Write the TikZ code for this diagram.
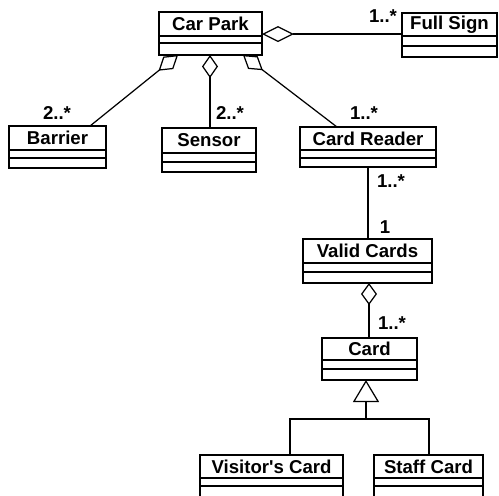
\documentclass[tikz,border=0pt]{standalone}
\usepackage{fontspec}
\setmainfont{Liberation Sans}
\usetikzlibrary{arrows.meta}
\tikzset{
  clsbox/.style={draw, line width=0.8pt, inner sep=0pt, outer sep=0pt},
  clstext/.style={font=\fontsize{10.6}{12}\selectfont\bfseries, inner sep=0pt},
  clsline/.style={line width=0.8pt},
  mult/.style={font=\fontsize{10.6}{12}\selectfont\bfseries, inner sep=0pt},
  conn/.style={line width=0.7pt},
  agg/.style={conn, {Diamond[open, length=#1, width=0.32cm]}-},
  agg/.default=0.46cm,
  gen/.style={conn, {Triangle[open, length=0.44cm, width=0.52cm]}-},
}
\newcommand\umlcls[8]{%
  \node[clsbox, minimum width={(#5-#3)*0.02cm}, minimum height={(#6-#4)*0.02cm}] (#1) at ({(#3+#5)/2},{(#4+#6)/2}) {};
  \node[clstext] (#1-name) at ({(#3+#5)/2},{(#4+#7)/2}) {#2};
  \draw[clsline] (#1.west |- 0,#7) -- (#1.east |- 0,#7) (#1.west |- 0,#8) -- (#1.east |- 0,#8);
}
\begin{document}
\begin{tikzpicture}[x=0.02cm, y=-0.02cm]
\useasboundingbox (0,0) rectangle (499,495);
\clip (0,0) rectangle (499,495);
% classes
\umlcls{cp}{Car Park}{159}{12}{262}{55}{36}{43}
\umlcls{fs}{Full Sign}{402}{13}{497}{57}{36}{46}
\umlcls{ba}{Barrier}{9}{126}{106}{168}{150}{158}
\umlcls{se}{Sensor}{162}{128}{256}{172}{153}{162}
\umlcls{cr}{Card Reader}{300}{127}{436}{167}{150}{158}
\umlcls{vc}{Valid Cards}{303}{239}{432}{283}{263}{272}
\umlcls{ca}{Card}{322}{338}{417}{380}{360}{369}
\umlcls{vi}{Visitor\textquotesingle s Card}{200}{455}{343}{510}{478}{486}
\umlcls{st}{Staff Card}{374}{455}{483}{510}{478}{486}
% associations
\coordinate (cpR) at (262,34);
\coordinate (cpL) at (178,55);
\coordinate (cpM) at (210,55);
\coordinate (cpC) at (243,55);
\coordinate (baT) at (90,126);
\coordinate (crT) at (337,127);
\draw[agg={0.64cm}] (cpR) -- (fs.west |- cpR);
\draw[agg={0.5cm}] (cpL) -- (baT);
\draw[agg] (cpM) -- (se.north -| cpM);
\draw[agg={0.5cm}] (cpC) -- (crT);
\draw[conn] (cr.south -| 368,0) -- (vc.north -| 368,0);
\draw[agg={0.44cm}] (vc.south -| 369,0) -- (ca.north -| 369,0);
\coordinate (junc) at (366,419);
\draw[gen] (ca.south -| junc) -- (junc);
\draw[conn] (vi.north -| 290,0) |- (junc) -| (st.north -| 429,0);
% multiplicities
\node[mult] at (383,16) {1..*};
\node[mult] at (57,113) {2..*};
\node[mult] at (230,113) {2..*};
\node[mult] at (364,113) {1..*};
\node[mult] at (391,181) {1..*};
\node[mult] at (385,227) {1};
\node[mult] at (392,323) {1..*};
\end{tikzpicture}
\end{document}
